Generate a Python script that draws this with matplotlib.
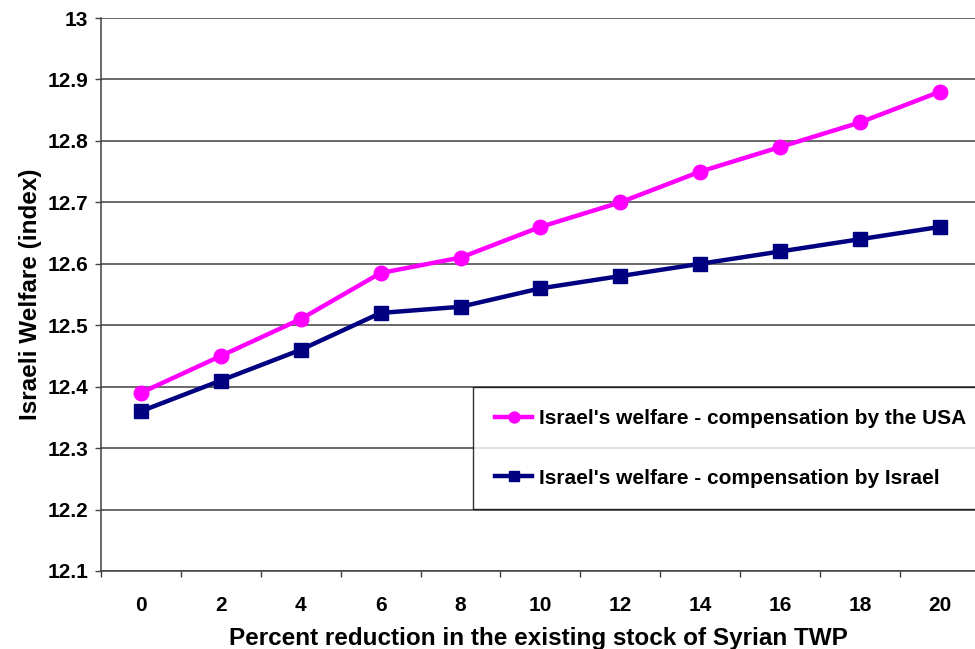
import numpy as np
import matplotlib.pyplot as plt

plt.rcParams['font.family'] = ['Liberation Sans', 'DejaVu Sans']
plt.rcParams['font.weight'] = 'bold'

reduction = [0, 2, 4, 6, 8, 10, 12, 14, 16, 18, 20]
welfare_usa = [12.39, 12.45, 12.51, 12.585, 12.61, 12.66, 12.70, 12.75, 12.79, 12.83, 12.88]
welfare_israel = [12.36, 12.41, 12.46, 12.52, 12.53, 12.56, 12.58, 12.60, 12.62, 12.64, 12.66]
y_ticks = [12.1, 12.2, 12.3, 12.4, 12.5, 12.6, 12.7, 12.8, 12.9, 13]
y_labels = ['12.1', '12.2', '12.3', '12.4', '12.5', '12.6', '12.7', '12.8', '12.9', '13']

fig = plt.figure(figsize=(9.75, 6.49), dpi=100)
ax = fig.add_axes([101 / 975, 78 / 649, 1 - 101 / 975, 553 / 649])

x = np.arange(len(reduction))
ax.plot(x, welfare_usa, color='#ff00ff', lw=3.2, marker='o', ms=10.5,
        label="Israel's welfare - compensation by the USA", zorder=3)
ax.plot(x, welfare_israel, color='#000080', lw=3.2, marker='s', ms=9.5,
        label="Israel's welfare - compensation by Israel", zorder=3)

ax.set_xlim(-0.5, 10.44)
ax.set_ylim(12.1, 13)
ax.set_yticks(y_ticks)
ax.set_yticklabels(y_labels, fontsize=15, fontweight='bold')
ax.set_xticks(x)
ax.set_xticklabels([str(v) for v in reduction], fontsize=15, fontweight='bold')
ax.set_xticks(np.arange(-0.5, 10.5, 1), minor=True)
ax.tick_params(axis='x', which='major', length=0, pad=18)
ax.tick_params(axis='x', which='minor', length=4.3, width=1, color='#404040')
ax.tick_params(axis='y', length=4.3, width=1, color='#404040', pad=5)

ax.grid(axis='y', color='#404040', lw=1.1)
ax.set_axisbelow(True)
for s in ['top', 'right']:
    ax.spines[s].set_visible(False)
ax.spines['left'].set_color('#404040')
ax.spines['bottom'].set_color('#404040')
ax.spines['left'].set_linewidth(1.1)
ax.spines['bottom'].set_linewidth(1.1)

ax.set_xlabel('Percent reduction in the existing stock of Syrian TWP', fontsize=17.5,
              fontweight='bold', labelpad=9)
ax.set_ylabel('Israeli Welfare (index)', fontsize=17.5, fontweight='bold', labelpad=4)

leg = ax.legend(loc='upper left', bbox_to_anchor=(473 / 975, 1 - 387 / 649, 510 / 975, 0),
                bbox_transform=fig.transFigure, mode='expand', frameon=True,
                fancybox=False, edgecolor='black', handlelength=1.8,
                handletextpad=0.3, labelspacing=1.95, borderpad=1.05,
                borderaxespad=0, markerscale=0.75,
                prop={'weight': 'bold', 'size': 15})
leg.get_frame().set_linewidth(1.0)

fig.savefig('out.png', dpi=100)
